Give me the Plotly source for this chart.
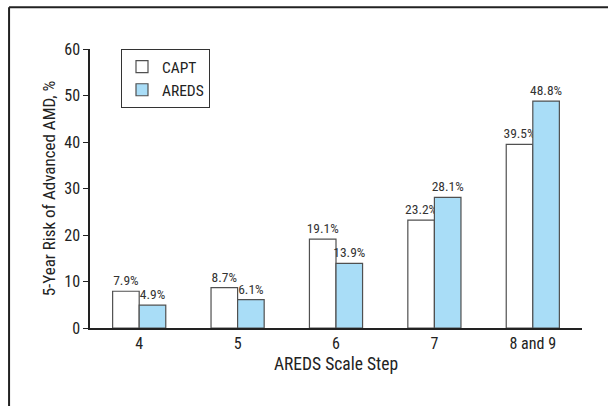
import plotly.graph_objects as go

categories = ["4", "5", "6", "7", "8 and 9"]
capt = [7.9, 8.7, 19.1, 23.2, 39.5]
areds = [4.9, 6.1, 13.9, 28.1, 48.8]
capt_labels = ["7.9%", "8.7%", "19.1%", "23.2%", "39.5%"]
areds_labels = ["4.9%", "6.1%", "13.9%", "28.1%", "48.8%"]
yticks = [0, 10, 20, 30, 40, 50, 60]

FONT = "Roboto Condensed, Liberation Sans Narrow, Arial Narrow, sans-serif"

fig = go.Figure()
fig.add_trace(go.Bar(
    name="CAPT", x=categories, y=capt, text=capt_labels,
    textposition="outside", cliponaxis=False, constraintext="none",
    marker=dict(color="white", line=dict(color="#505050", width=1.2)),
    textfont=dict(size=13.5, color="#333333", family=FONT),
))
fig.add_trace(go.Bar(
    name="AREDS", x=categories, y=areds, text=areds_labels,
    textposition="outside", cliponaxis=False, constraintext="none",
    marker=dict(color="#a9ddf7", line=dict(color="#505050", width=1.2)),
    textfont=dict(size=13.5, color="#333333", family=FONT),
))

fig.update_layout(
    width=608, height=406,
    margin=dict(l=90, r=26, t=49, b=78),
    paper_bgcolor="white", plot_bgcolor="white",
    barmode="group", bargap=0.46, bargroupgap=0,
    font=dict(family=FONT, size=16, color="#222222"),
    showlegend=True,
    legend=dict(
        x=0.063, y=1.0, xanchor="left", yanchor="top",
        bordercolor="#333333", borderwidth=1, bgcolor="white",
        font=dict(size=15.5, family=FONT), tracegroupgap=0,
        itemwidth=30,
    ),
    xaxis=dict(
        title=dict(text="AREDS Scale Step", font=dict(size=17.5, family=FONT), standoff=6),
        showline=True, linecolor="#222222", linewidth=1.5,
        ticks="", showgrid=False, tickfont=dict(size=16, family=FONT),
        range=[-0.5, 4.5],
    ),
    yaxis=dict(
        title=dict(text="5-Year Risk of Advanced AMD, %", font=dict(size=17, family=FONT), standoff=4),
        range=[0, 60], tickvals=yticks, showline=True, linecolor="#222222", linewidth=1.5,
        ticks="outside", ticklen=5, tickcolor="#222222", showgrid=False, zeroline=False,
        tickfont=dict(size=16, family=FONT),
    ),
    shapes=[
        dict(type="line", xref="paper", yref="paper", x0=-0.1645, x1=1.06, y0=1.150, y1=1.150,
             line=dict(color="#222222", width=2)),
        dict(type="line", xref="paper", yref="paper", x0=-0.1645, x1=-0.1645, y0=1.150, y1=-0.3,
             line=dict(color="#222222", width=2)),
    ],
)

fig.write_html("out.html", config={"displayModeBar": False},
               post_script="document.body.style.margin='0';")
